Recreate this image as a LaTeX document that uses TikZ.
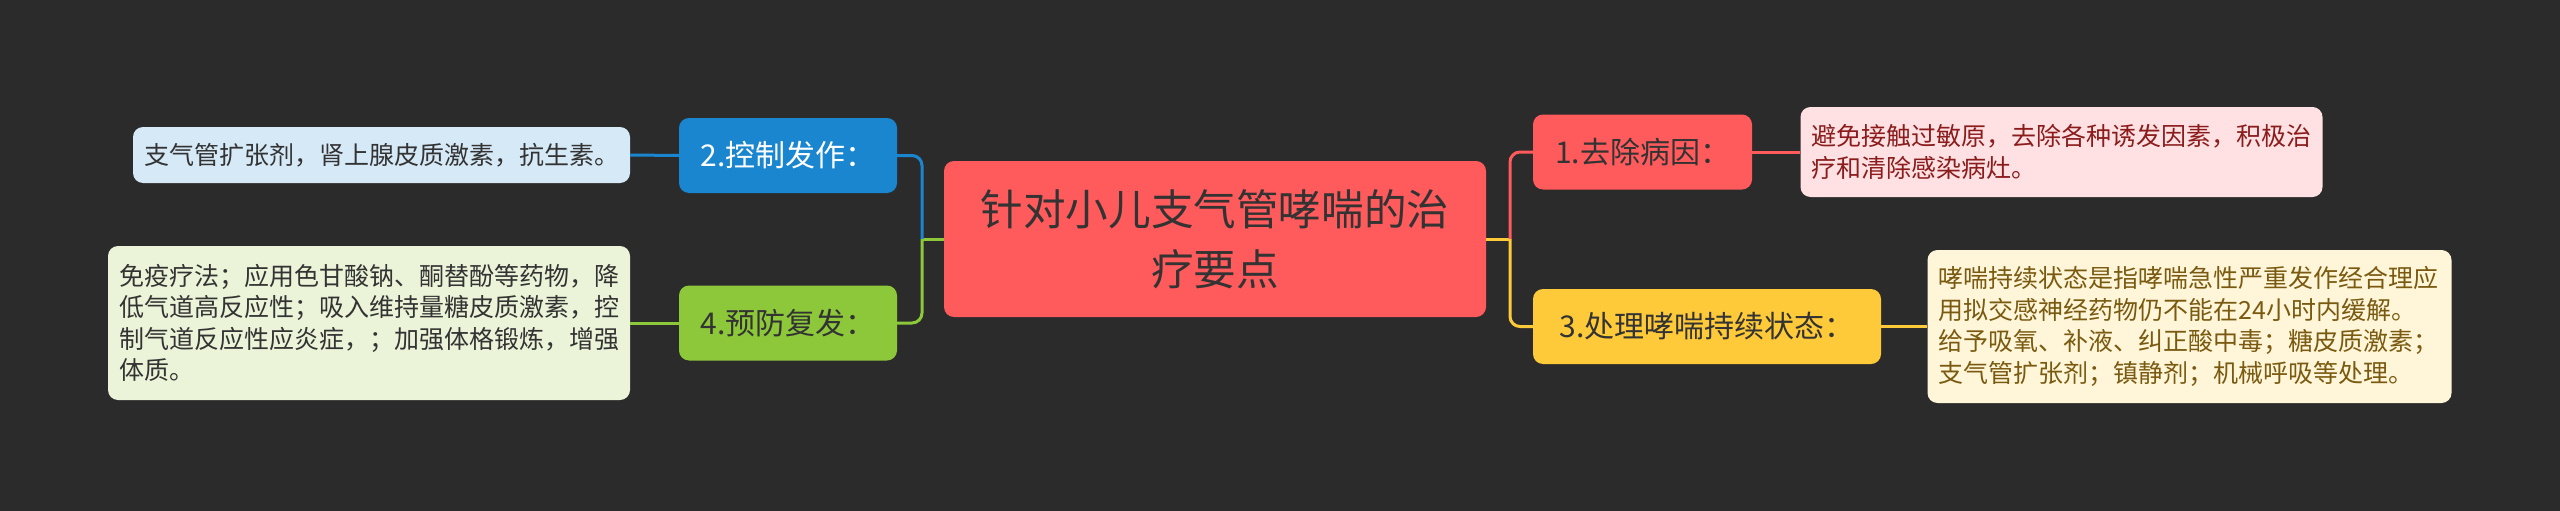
\documentclass[tikz,border=0pt]{standalone}
\usepackage{fontspec}
\setmainfont{Noto Sans CJK SC}
\usepackage{tikz}

\definecolor{bgdark}{HTML}{2B2B2B}
\definecolor{rootred}{HTML}{FF5A5C}
\definecolor{topicblue}{HTML}{1A86CF}
\definecolor{topicgreen}{HTML}{8CC83A}
\definecolor{topicyellow}{HTML}{FFCA3A}
\definecolor{leafblue}{HTML}{D6E9F7}
\definecolor{leafgreen}{HTML}{EBF4D8}
\definecolor{leafpink}{HTML}{FFE1E4}
\definecolor{leafcream}{HTML}{FFF6D9}
\definecolor{inkdark}{HTML}{333333}
\definecolor{inkred}{HTML}{8B1C1C}
\definecolor{inkbrown}{HTML}{7A5A10}

\tikzset{
  topic/.style={rounded corners=10pt, fill=#1, minimum height=75pt, inner xsep=0pt,
    text=inkdark, font=\fontsize{30}{36}\selectfont},
  leafbox/.style={rounded corners=10pt, fill=#1, align=left, inner xsep=11pt,
    font=\fontsize{25}{31.5}\selectfont},
  link/.style={line width=3pt, draw=#1}
}

\begin{document}
\begin{tikzpicture}[x=1pt, y=-1pt]
    % Draw the background
    \fill[bgdark] (0,0) rectangle (2560,511);

    % Draw the central topic
    \node[rounded corners=10pt, fill=rootred, text=inkdark, minimum width=542pt, minimum height=156pt,
      align=center, font=\fontsize{42.6}{60}\selectfont] (root) at (1215,239)
      {针对小儿支气管哮喘的治\\疗要点};

    % Draw the main topics on the left
    \node[topic=topicblue, text=white, minimum width=218pt] (ctrl) at (788,155.5) {2.控制发作：};
    \node[topic=topicgreen, minimum width=218pt] (prev) at (788,323) {4.预防复发：};

    % Draw the main topics on the right
    \node[topic=rootred, minimum width=219pt] (cause) at (1642.5,152) {1.去除病因：};
    \node[topic=topicyellow, minimum width=348pt] (state) at (1707,326.5) {3.处理哮喘持续状态：};

    % Draw the leaves
    \node[leafbox=leafblue, text=inkdark, text width=475pt, minimum height=56pt] (ctrlleaf) at (381.5,155)
      {支气管扩张剂，肾上腺皮质激素，抗生素。};
    \node[leafbox=leafgreen, text=inkdark, text width=500pt, minimum height=154pt] (prevleaf) at (369,323)
      {免疫疗法；应用色甘酸钠、酮替酚等药物，降\\低气道高反应性；吸入维持量糖皮质激素，控\\制气道反应性应炎症，；加强体格锻炼，增强\\体质。};
    \node[leafbox=leafpink, text=inkred, text width=500pt, minimum height=90pt] (causeleaf) at (2061.5,152)
      {避免接触过敏原，去除各种诱发因素，积极治\\疗和清除感染病灶。};
    \node[leafbox=leafcream, text=inkbrown, text width=502pt, minimum height=153pt] (stateleaf) at (2189.5,326.5)
      {哮喘持续状态是指哮喘急性严重发作经合理应\\用拟交感神经药物仍不能在24小时内缓解。\\给予吸氧、补液、纠正酸中毒；糖皮质激素；\\支气管扩张剂；镇静剂；机械呼吸等处理。};

    % Draw the branches
    \coordinate (jl) at (922,239);
    \coordinate (jr) at (1510,239);
    \draw[link=topicgreen] (root.west) -- (jl);
    \draw[link=topicblue, rounded corners=10pt] (jl) |- (ctrl.east);
    \draw[link=topicgreen, rounded corners=10pt] (jl) |- (prev.east);
    \draw[link=topicyellow] (root.east) -- (jr);
    \draw[link=rootred, rounded corners=10pt] (jr) |- (cause.west);
    \draw[link=topicyellow, rounded corners=10pt] (jr) |- (state.west);

    % Draw the leaf links
    \draw[link=topicblue] (ctrl.west) -- (ctrlleaf.east);
    \draw[link=topicgreen] (prev.west) -- (prevleaf.east);
    \draw[link=rootred] (cause.east) -- (causeleaf.west);
    \draw[link=topicyellow] (state.east) -- (stateleaf.west);
\end{tikzpicture}
\end{document}
